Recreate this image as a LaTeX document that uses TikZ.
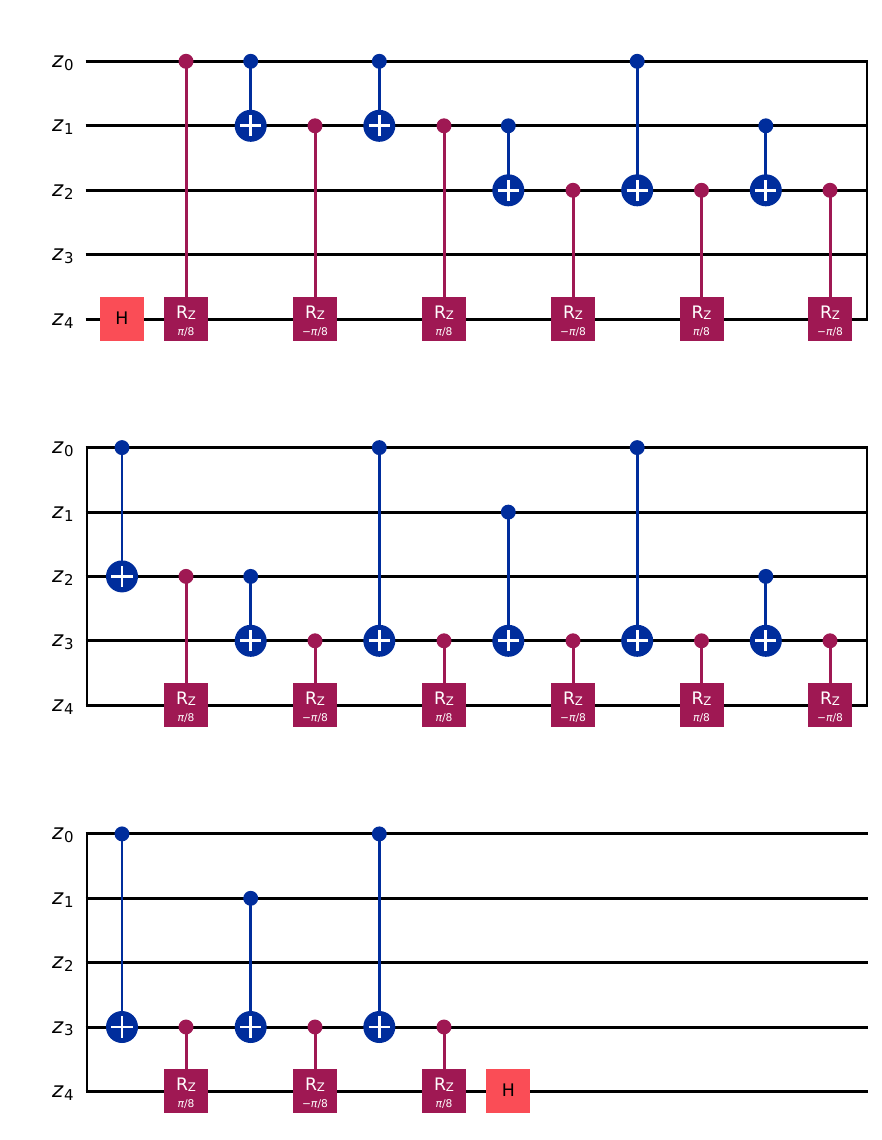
\documentclass[tikz,border=0pt]{standalone}
\usepackage{fontspec}
\setmainfont{DejaVu Sans}
\definecolor{cxblue}{HTML}{002D9C}
\definecolor{rzred}{HTML}{9F1853}
\definecolor{hred}{HTML}{FA4D56}
\newcommand{\qlab}[1]{\textit{z}\kern0.02em\raisebox{-2.2pt}{\fontsize{11.2pt}{11.2pt}\selectfont #1}}
\newcommand{\pp}{\textit{π}/8}
\newcommand{\mm}{−\textit{π}/8}
\tikzset{
  wire/.style={line width=2.25pt,black},
  bar/.style={line width=2.2pt,black},
  ctrlline/.style={line width=2.2pt,cxblue},
  rzline/.style={line width=2.25pt,rzred},
  cdot/.style={circle,fill=cxblue,minimum size=11.2pt,inner sep=0pt,outer sep=0pt},
  rdot/.style={circle,fill=rzred,minimum size=11.2pt,inner sep=0pt,outer sep=0pt},
  target/.style={circle,fill=cxblue,minimum size=24pt,inner sep=0pt,outer sep=0pt},
  plusline/.style={line width=2.2pt,white},
  gatebox/.style={minimum size=33pt,inner sep=0pt,outer sep=0pt},
  hbox/.style={gatebox,fill=hred,text=black,font=\fontsize{13pt}{13pt}\selectfont},
  rzbox/.style={gatebox,fill=rzred},
  rzname/.style={anchor=base,inner sep=0pt,text=white,font=\fontsize{12.9pt}{12.9pt}\selectfont},
  rzparam/.style={anchor=base,inner sep=0pt,text=white,font=\fontsize{8pt}{8pt}\selectfont},
  qlabel/.style={anchor=base east,font=\fontsize{16pt}{16pt}\selectfont,inner sep=0pt}
}
% #1 name, #2 x, #3 control y, #4 target y
\newcommand{\cx}[4]{%
  \node[cdot] (#1c) at (#2,#3) {};
  \node[target] (#1t) at (#2,#4) {};
  \draw[ctrlline] (#1c.center) -- (#1t.center);
  \draw[plusline] ([xshift=-8pt]#1t.center) -- ([xshift=8pt]#1t.center);
  \draw[plusline] ([yshift=-8pt]#1t.center) -- ([yshift=8pt]#1t.center);
}
% #1 name, #2 x, #3 control y, #4 box y, #5 parameter
\newcommand{\rz}[5]{%
  \node[rdot] (#1c) at (#2,#3) {};
  \node[rzbox] (#1b) at (#2,#4) {};
  \draw[rzline] (#1c.center) -- (#1b.north);
  \node[rzname] (#1n) at (#2,#4-1) {R\raisebox{-1.2pt}{\fontsize{8.8pt}{8.8pt}\selectfont Z}};
  \node[rzparam] (#1p) at (#2,#4+16) {#5};
}
% #1 prefix, #2..#6 wire y
\newcommand{\wires}[6]{%
  \foreach \q/\y in {0/#2,1/#3,2/#4,3/#5,4/#6}{
    \coordinate (#1w\q l) at (87,\y);
    \coordinate (#1w\q r) at (867,\y);
    \draw[wire] ([xshift=-1.1pt]#1w\q l) -- ([xshift=1.1pt]#1w\q r);
    \node[qlabel] (#1lab\q) at (74,\y+6) {\qlab{\q}};
  }
}
\begin{document}
\begin{tikzpicture}[x=0.75pt,y=-0.75pt]
\useasboundingbox (0,0) rectangle (882,1140);
\fill[white] (0,0) rectangle (882,1140);
% first row
\wires{a}{61.3}{125.8}{190.3}{254.6}{319.1}
\draw[bar] (aw0r) -- (aw4r);
\node[hbox] (ah) at (122,319.1) {\raisebox{1pt}{H}};
\rz{a1}{186}{61.3}{319.1}{\pp}
\cx{a2}{250.7}{61.3}{125.8}
\rz{a3}{315}{125.8}{319.1}{\mm}
\cx{a4}{379.3}{61.3}{125.8}
\rz{a5}{444}{125.8}{319.1}{\pp}
\cx{a6}{508.3}{125.8}{190.3}
\rz{a7}{573}{190.3}{319.1}{\mm}
\cx{a8}{637.2}{61.3}{190.3}
\rz{a9}{701.5}{190.3}{319.1}{\pp}
\cx{a10}{765.8}{125.8}{190.3}
\rz{a11}{830}{190.3}{319.1}{\mm}
% second row
\wires{b}{447.6}{512.1}{576.4}{640.8}{705.1}
\draw[bar] (bw0l) -- (bw4l);
\draw[bar] (bw0r) -- (bw4r);
\cx{b1}{122}{447.6}{576.4}
\rz{b2}{186}{576.4}{705.1}{\pp}
\cx{b3}{250.7}{576.4}{640.8}
\rz{b4}{315}{640.8}{705.1}{\mm}
\cx{b5}{379.3}{447.6}{640.8}
\rz{b6}{444}{640.8}{705.1}{\pp}
\cx{b7}{508.3}{512.1}{640.8}
\rz{b8}{573}{640.8}{705.1}{\mm}
\cx{b9}{637.2}{447.6}{640.8}
\rz{b10}{701.5}{640.8}{705.1}{\pp}
\cx{b11}{765.8}{576.4}{640.8}
\rz{b12}{830}{640.8}{705.1}{\mm}
% third row
\wires{c}{833.9}{898.3}{962.7}{1027}{1091.1}
\draw[bar] (cw0l) -- (cw4l);
\cx{c1}{122}{833.9}{1027}
\rz{c2}{186}{1027}{1091.1}{\pp}
\cx{c3}{250.7}{898.3}{1027}
\rz{c4}{315}{1027}{1091.1}{\mm}
\cx{c5}{379.3}{833.9}{1027}
\rz{c6}{444}{1027}{1091.1}{\pp}
\node[hbox] (ch) at (508.3,1091.1) {\raisebox{1pt}{H}};
\end{tikzpicture}
\end{document}
